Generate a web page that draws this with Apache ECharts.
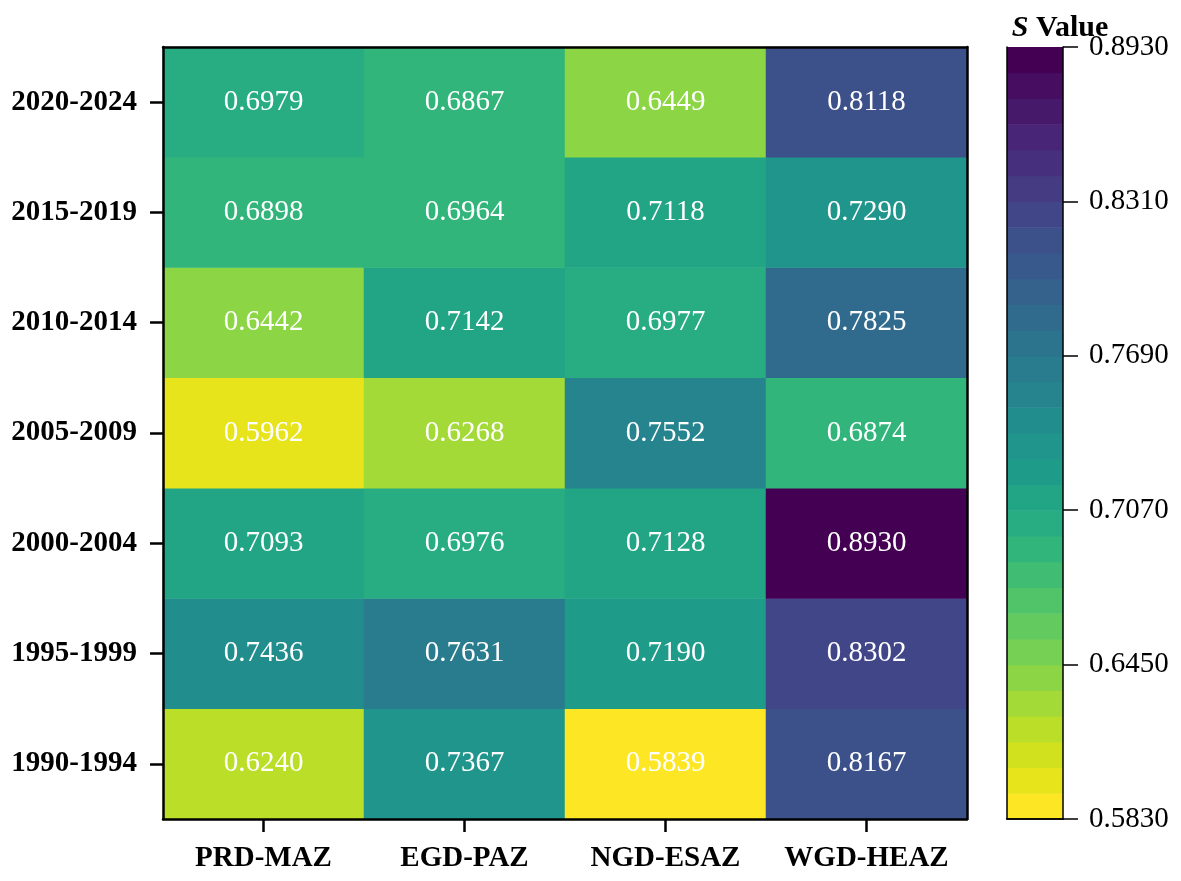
<!DOCTYPE html>
<html><head><meta charset="utf-8">
<script src="https://cdn.jsdelivr.net/npm/echarts@6/dist/echarts.min.js"></script>
<style>html,body{margin:0;padding:0;background:#fff}#c{width:1181px;height:881px}</style>
</head><body><div id="c"></div>
<script>
const zones = ['PRD-MAZ', 'EGD-PAZ', 'NGD-ESAZ', 'WGD-HEAZ'];
const periods = ['1990-1994', '1995-1999', '2000-2004', '2005-2009', '2010-2014', '2015-2019', '2020-2024'];
// S values per period, in zone order
const s1990 = [0.6240, 0.7367, 0.5839, 0.8167];
const s1995 = [0.7436, 0.7631, 0.7190, 0.8302];
const s2000 = [0.7093, 0.6976, 0.7128, 0.8930];
const s2005 = [0.5962, 0.6268, 0.7552, 0.6874];
const s2010 = [0.6442, 0.7142, 0.6977, 0.7825];
const s2015 = [0.6898, 0.6964, 0.7118, 0.7290];
const s2020 = [0.6979, 0.6867, 0.6449, 0.8118];
const rows = [s1990, s1995, s2000, s2005, s2010, s2015, s2020];
const colorbarTicks = ['0.5830', '0.6450', '0.7070', '0.7690', '0.8310', '0.8930'];
const cbMin = 0.583, cbMax = 0.893, nBands = 30;

// viridis anchors (style)
const viridis = ['#440154','#471365','#482475','#463480','#414487','#3b528b','#355f8d','#2f6c8e','#2a788e','#25848e','#21918c','#1e9c89','#22a884','#2fb47c','#44bf70','#5ec962','#7ad151','#9bd93c','#bddf26','#dfe318','#fde725'];
function hex(h){return [parseInt(h.slice(1,3),16),parseInt(h.slice(3,5),16),parseInt(h.slice(5,7),16)];}
function vir(t){
  const p = t*(viridis.length-1); const i = Math.min(Math.floor(p), viridis.length-2); const f = p-i;
  const a = hex(viridis[i]), b = hex(viridis[i+1]);
  return 'rgb(' + a.map((x,k)=>Math.round(x+(b[k]-x)*f)).join(',') + ')';
}
const bandColors = [];
for (let i = 0; i < nBands; i++) bandColors.push(vir(1 - i/(nBands-1)));
const step = (cbMax - cbMin) / nBands;
const pieces = bandColors.map((c, i) => i === nBands-1 ? {gte: cbMin + i*step - 1e-9, lte: cbMax + 1, color: c} : {gte: cbMin + i*step - 1e-9, lt: cbMin + (i+1)*step - 1e-9, color: c});

const heatData = [];
rows.forEach((r, y) => r.forEach((v, x) => heatData.push([x, y, v])));
const bandData = bandColors.map((c, i) => [0, i, i+1, i]);

const FONT = 'Liberation Serif';
const chart = echarts.init(document.getElementById('c'));
chart.setOption({
  animation: false,
  backgroundColor: '#fff',
  grid: [
    {left: 163, right: 214, top: 47, bottom: 62},
    {left: 1007, width: 56, top: 47, bottom: 62}
  ],
  title: {
    text: '{i|S}{b| Value}', left: 1055, top: 8, textAlign: 'center',
    textStyle: {rich: {
      i: {fontFamily: FONT, fontSize: 30, fontWeight: 'bold', fontStyle: 'italic', color: '#000'},
      b: {fontFamily: FONT, fontSize: 30, fontWeight: 'bold', color: '#000'}
    }}
  },
  xAxis: [
    {type: 'category', data: zones, gridIndex: 0, z: 10,
     axisLine: {show: true, lineStyle: {color: '#000', width: 2.5}},
     axisTick: {show: true, interval: 0, alignWithLabel: true, length: 13, lineStyle: {color: '#000', width: 2.5}},
     axisLabel: {interval: 0, fontFamily: FONT, fontSize: 29, fontWeight: 'bold', color: '#000', margin: 25},
     splitLine: {show: false}},
    {type: 'category', data: zones, gridIndex: 0, position: 'top', z: 10,
     axisLine: {show: true, lineStyle: {color: '#000', width: 2.5}}, axisTick: {show: false}, axisLabel: {show: false}},
    {type: 'category', data: [''], gridIndex: 1, z: 10,
     axisLine: {show: true, lineStyle: {color: '#000', width: 1.5}}, axisTick: {show: false}, axisLabel: {show: false}},
    {type: 'category', data: [''], gridIndex: 1, position: 'top', z: 10,
     axisLine: {show: true, lineStyle: {color: '#000', width: 1.5}}, axisTick: {show: false}, axisLabel: {show: false}}
  ],
  yAxis: [
    {type: 'category', data: periods, gridIndex: 0, z: 10,
     axisLine: {show: true, lineStyle: {color: '#000', width: 2.5}},
     axisTick: {show: true, interval: 0, alignWithLabel: true, length: 13, lineStyle: {color: '#000', width: 2.5}},
     axisLabel: {interval: 0, fontFamily: FONT, fontSize: 29, fontWeight: 'bold', color: '#000', margin: 26}},
    {type: 'category', data: periods, gridIndex: 0, position: 'right', z: 10,
     axisLine: {show: true, lineStyle: {color: '#000', width: 2.5}}, axisTick: {show: false}, axisLabel: {show: false}},
    {type: 'value', gridIndex: 1, position: 'right', min: 0, max: nBands, interval: 6, z: 10,
     axisLine: {show: true, lineStyle: {color: '#000', width: 1.5}},
     axisTick: {show: true, length: 15, lineStyle: {color: '#000', width: 1.5}},
     splitLine: {show: false},
     axisLabel: {fontFamily: FONT, fontSize: 29, color: '#000', margin: 26,
       formatter: v => colorbarTicks[Math.round(v/6)]}},
    {type: 'value', gridIndex: 1, position: 'left', min: 0, max: nBands, z: 10,
     axisLine: {show: true, lineStyle: {color: '#000', width: 1.5}},
     axisTick: {show: false}, axisLabel: {show: false}, splitLine: {show: false}}
  ],
  visualMap: {type: 'piecewise', show: false, seriesIndex: 0, dimension: 2, pieces: pieces},
  series: [
    {type: 'heatmap', xAxisIndex: 0, yAxisIndex: 0, data: heatData, silent: true,
     label: {show: true, fontFamily: FONT, fontSize: 29, color: '#fff', formatter: p => p.value[2].toFixed(4)},
     emphasis: {disabled: true}},
    {type: 'custom', xAxisIndex: 2, yAxisIndex: 2, data: bandData, silent: true,
     renderItem: function (params, api) {
       const lo = api.coord([api.value(0), api.value(1)]);
       const hi = api.coord([api.value(0), api.value(2)]);
       const w = api.size([1, 0])[0];
       return {type: 'rect', shape: {x: lo[0] - w/2, y: hi[1], width: w, height: lo[1] - hi[1] + 0.6},
               style: {fill: bandColors[api.value(3)]}};
     }}
  ]
});
</script></body></html>
